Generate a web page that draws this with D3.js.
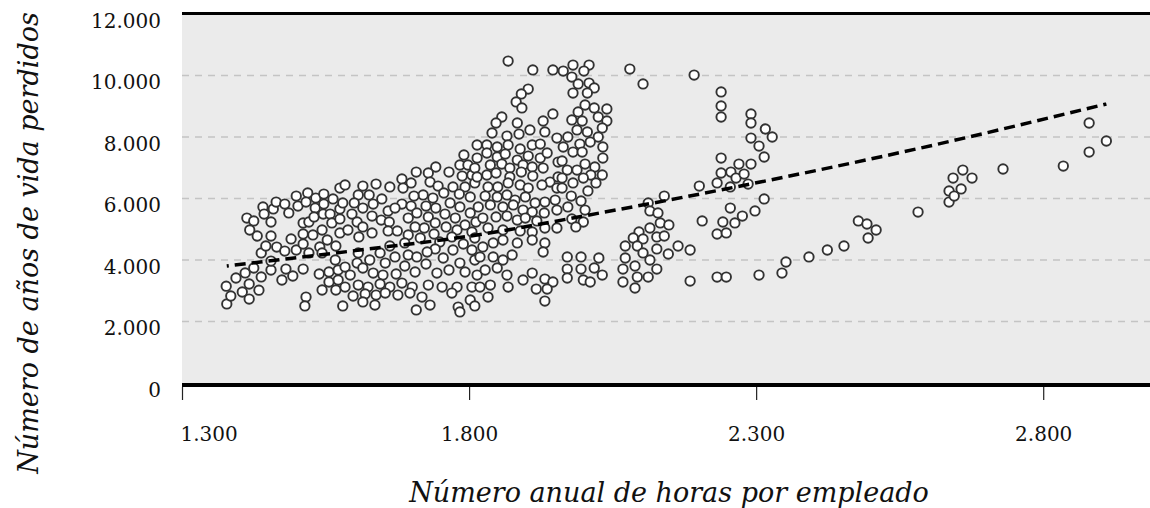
<!DOCTYPE html>
<html>
<head>
<meta charset="utf-8">
<script src="https://cdn.jsdelivr.net/npm/d3@7"></script>
<style>
body { margin: 0; background: #fff; }
svg { display: block; }
</style>
</head>
<body>
<div id="chart"></div>
<script>
// [horas anuales, años de vida perdidos]
var pointsWest = [[1378,2570],[1385,2830],[1377,3150],[1394,3415],[1405,2960],[1417,2730],[1417,3220],[1434,3020],[1410,3580],[1425,3740],[1438,3450],[1455,3675],[1438,4230],[1446,4455],[1465,4420],[1455,4780],[1479,4290],[1481,3705],[1474,3350],[1493,3480],[1511,3705],[1499,4325],[1490,4685],[1511,4520],[1511,4845],[1528,4815],[1521,4230],[1455,3965],[1413,5365],[1425,5270],[1418,4975],[1431,4780],[1455,5235],[1441,5725],[1443,5495],[1459,5660],[1464,5885],[1479,5820],[1486,5530],[1499,6080],[1502,5755],[1511,5205],[1521,5235],[1519,6180],[1516,5885],[1533,6015],[1532,5690],[1530,5400],[1547,6145],[1547,5820],[1546,5495],[1544,4975],[1553,4650],[1540,4425],[1558,5495],[1561,5205],[1563,5985],[1575,6340],[1575,5660],[1575,5335],[1575,4880],[1568,4455],[1567,4000],[1539,3545],[1556,3610],[1572,3675],[1556,3285],[1572,3350],[1544,3025],[1568,3025],[1516,2795],[1514,2505],[1580,2505],[1580,5855],[1584,6440],[1544,4230]];

var pointsCentre = [[1791,7415],[1784,7090],[1798,7090],[1742,7025],[1765,6860],[1708,6860],[1729,6830],[1788,6730],[1683,6635],[1732,6535],[1699,6505],[1805,6765],[1746,6405],[1772,6375],[1793,6375],[1810,6505],[1638,6470],[1615,6405],[1662,6375],[1685,6340],[1756,6180],[1720,6115],[1704,6080],[1648,5985],[1626,6115],[1607,6115],[1737,6015],[1783,6145],[1802,6050],[1600,5855],[1633,5820],[1683,5820],[1725,5755],[1767,5855],[1699,5755],[1742,5690],[1784,5725],[1615,5690],[1659,5595],[1671,5690],[1709,5530],[1758,5495],[1802,5530],[1631,5430],[1596,5495],[1647,5300],[1694,5365],[1729,5400],[1776,5365],[1605,5235],[1741,5205],[1812,5235],[1706,5075],[1793,5140],[1615,5075],[1661,5235],[1659,4945],[1675,4945],[1722,5040],[1760,5075],[1779,4975],[1631,4880],[1589,4975],[1694,4815],[1739,4845],[1805,4910],[1715,4715],[1608,4750],[1770,4750],[1810,4715],[1662,4455],[1645,4230],[1688,4555],[1749,4585],[1790,4520],[1741,4360],[1727,4260],[1694,4165],[1709,4100],[1772,4325],[1805,4325],[1607,4230],[1584,3770],[1605,3900],[1627,4000],[1671,4100],[1654,3900],[1688,3805],[1725,3870],[1755,4065],[1784,3900],[1810,4000],[1593,3510],[1615,3740],[1633,3575],[1650,3510],[1673,3545],[1706,3610],[1744,3575],[1765,3675],[1793,3610],[1814,3510],[1584,3120],[1607,3185],[1624,3120],[1645,3220],[1662,3120],[1683,3250],[1701,3120],[1729,3185],[1753,3120],[1779,3120],[1805,3120],[1598,2830],[1619,2895],[1638,2860],[1654,2925],[1676,2860],[1697,2925],[1718,2795],[1732,2535],[1708,2375],[1636,2535],[1615,2635],[1770,2925],[1781,2470],[1802,2700],[1784,2310],[1810,2505]];

var pointsNorth = [[1868,10470],[1911,10180],[1946,10180],[1903,9560],[1891,9400],[1882,9140],[1892,8945],[1857,8650],[1847,8455],[1884,8455],[1929,8520],[1946,8750],[1840,8130],[1866,8030],[1887,8095],[1906,8230],[1932,8165],[1814,7740],[1831,7740],[1849,7675],[1868,7740],[1889,7610],[1910,7740],[1924,7770],[1953,7965],[1814,7315],[1831,7480],[1849,7350],[1863,7445],[1884,7250],[1903,7380],[1924,7315],[1936,7480],[1810,6990],[1837,7090],[1857,7120],[1871,6990],[1894,7090],[1910,7025],[1929,6990],[1955,7185],[1814,6700],[1831,6765],[1847,6830],[1871,6700],[1891,6860],[1911,6730],[1941,6535],[1955,6700],[1833,6375],[1850,6375],[1868,6505],[1889,6440],[1903,6340],[1927,6440],[1953,6340],[1828,6080],[1849,6050],[1866,6115],[1880,5950],[1898,6050],[1915,5855],[1932,5885],[1950,5950],[1816,5725],[1837,5790],[1859,5725],[1877,5790],[1894,5625],[1910,5560],[1931,5530],[1953,5625],[1824,5365],[1847,5400],[1866,5430],[1884,5300],[1898,5365],[1918,5270],[1932,5040],[1953,5040],[1833,5040],[1859,4975],[1889,4945],[1910,4910],[1884,4555],[1910,4650],[1932,4555],[1929,4260],[1824,4425],[1842,4555],[1859,4650],[1819,4100],[1842,4100],[1859,4000],[1875,4165],[1828,3675],[1849,3740],[1866,3510],[1910,3575],[1894,3350],[1932,3380],[1946,3285],[1936,3055],[1917,3055],[1868,3120],[1837,3185],[1819,3120],[1833,2795],[1932,2665]];

var pointsEast = [[1981,10340],[2009,10340],[1964,10145],[2000,10145],[2080,10210],[1979,9950],[1990,9725],[2009,9755],[2018,9595],[1981,9430],[2006,9430],[2002,9040],[2018,8945],[2040,8910],[1990,8815],[2025,8650],[2040,8520],[1979,8555],[1997,8520],[2032,8295],[1988,8230],[2006,8165],[1972,8000],[2025,8000],[2011,7835],[1964,7675],[1993,7770],[2033,7675],[1981,7510],[1997,7510],[2033,7315],[1962,7220],[2002,7120],[2019,7025],[1971,6925],[1988,6925],[2012,6765],[2032,6765],[1962,6665],[1981,6505],[1999,6665],[2021,6505],[1962,6340],[2007,6245],[1978,6080],[1995,5920],[1972,5725],[2002,5625],[1979,5335],[1999,5235],[1986,5075],[1971,4100],[1995,4100],[2026,4065],[1971,3705],[1995,3705],[2018,3740],[1971,3415],[1999,3350],[2011,3285],[2032,3510]];

var pointsFar = [[2103,9725],[2192,10015],[2239,9465],[2239,9010],[2239,8650],[2291,8750],[2291,8455],[2316,8260],[2328,8000],[2291,7965],[2305,7705],[2314,7350],[2239,7315],[2270,7120],[2291,7120],[2239,6830],[2256,6860],[2265,6665],[2279,6795],[2232,6505],[2255,6375],[2286,6470],[2201,6405],[2140,6080],[2314,5985],[2112,5855],[2115,5595],[2129,5530],[2255,5690],[2298,5595],[2276,5430],[2206,5270],[2242,5235],[2263,5205],[2133,5205],[2148,5140],[2115,5040],[2096,4910],[2127,4750],[2140,4780],[2086,4715],[2103,4685],[2232,4845],[2248,4880],[2072,4455],[2093,4455],[2127,4360],[2164,4455],[2185,4325],[2147,4195],[2072,4065],[2103,4230],[2115,4000],[2127,3705],[2112,3445],[2093,3445],[2068,3705],[2089,3805],[2068,3285],[2089,3090],[2185,3315],[2232,3445],[2248,3445],[2305,3510],[2345,3575],[2352,3935],[2392,4100],[2424,4325],[2453,4455],[2478,5270],[2493,5170],[2509,4975],[2495,4715],[2582,5560],[2636,5885],[2636,6245],[2645,6080],[2657,6310],[2643,6665],[2660,6925],[2676,6665],[2730,6960],[2835,7055],[2880,8455],[2880,7510],[2910,7870]];

// dashed fit line
var trend = [[1378,3805],[1610,4325],[1802,4780],[2028,5530],[2307,6535],[2586,7640],[2910,9075]];

var xTicks = [1300, 1800, 2300, 2800];
var yTicks = [0, 2000, 4000, 6000, 8000, 10000, 12000];
var xTitle = "Número anual de horas por empleado";
var yTitle = "Número de años de vida perdidos";

var width = 1150, height = 508;
var plotLeft = 182, plotRight = 1150, plotTop = 14, plotBottom = 383;
var serif = "'DejaVu Serif', Georgia, serif";

var svg = d3.select("#chart").append("svg")
    .attr("width", width)
    .attr("height", height);

var x = d3.scaleLinear().domain([1300, 2986]).range([plotLeft, plotRight]);
var y = d3.scaleLinear().domain([0, 12000]).range([plotBottom, plotTop]);

var es = d3.formatLocale({decimal: ",", thousands: ".", grouping: [3], currency: ["", " €"]});
var fmt = es.format(",");

// grey panel
svg.append("rect")
    .attr("x", plotLeft)
    .attr("y", plotTop)
    .attr("width", plotRight - plotLeft)
    .attr("height", plotBottom - plotTop)
    .style("fill", "#ebebeb");

// dashed grid
svg.append("g").selectAll("line")
    .data(yTicks.filter(function(d) { return d > 0 && d < 12000; }))
    .enter().append("line")
    .attr("x1", plotLeft)
    .attr("x2", plotRight)
    .attr("y1", function(d) { return y(d); })
    .attr("y2", function(d) { return y(d); })
    .style("stroke", "#c4c4c4")
    .style("stroke-width", 1.3)
    .style("stroke-dasharray", "7,6");

// top rule
svg.append("line")
    .attr("x1", plotLeft).attr("x2", plotRight)
    .attr("y1", y(12000) - 0.5).attr("y2", y(12000) - 0.5)
    .style("stroke", "#000")
    .style("stroke-width", 3);

var allPoints = pointsWest.concat(pointsCentre, pointsNorth, pointsEast, pointsFar);

svg.append("g").selectAll("circle")
    .data(allPoints)
    .enter().append("circle")
    .attr("cx", function(d) { return x(d[0]); })
    .attr("cy", function(d) { return y(d[1]); })
    .attr("r", 4.7)
    .style("fill", "#fff")
    .style("stroke", "#333")
    .style("stroke-width", 1.9);

var line = d3.line()
    .x(function(d) { return x(d[0]); })
    .y(function(d) { return y(d[1]); })
    .curve(d3.curveMonotoneX);

svg.append("path")
    .datum(trend)
    .attr("d", line)
    .style("fill", "none")
    .style("stroke", "#000")
    .style("stroke-width", 3.5)
    .style("stroke-dasharray", "11,6")
    .style("stroke-dashoffset", 9);

// bottom rule + ticks
svg.append("line")
    .attr("x1", plotLeft).attr("x2", plotRight)
    .attr("y1", plotBottom + 2).attr("y2", plotBottom + 2)
    .style("stroke", "#000")
    .style("stroke-width", 4);

var xAxis = svg.append("g")
    .attr("transform", "translate(0," + (plotBottom + 4) + ")")
    .call(d3.axisBottom(x).tickValues(xTicks).tickSize(13).tickPadding(27).tickFormat(fmt));
xAxis.select(".domain").remove();
xAxis.selectAll(".tick line").style("stroke", "#222").style("stroke-width", 1.2);
xAxis.selectAll("text")
    .style("font-family", serif)
    .style("font-size", "20px")
    .style("fill", "#111");
xAxis.selectAll(".tick").filter(function(d) { return d === 1300; })
    .select("text").attr("text-anchor", "start").attr("x", -2);

var yAxis = svg.append("g")
    .attr("transform", "translate(" + plotLeft + ",0)")
    .call(d3.axisLeft(y).tickValues(yTicks).tickSize(0).tickPadding(21).tickFormat(fmt));
yAxis.select(".domain").remove();
yAxis.selectAll("text")
    .attr("dy", "0.65em")
    .style("font-family", serif)
    .style("font-size", "20px")
    .style("fill", "#111");

svg.append("text")
    .attr("x", 669)
    .attr("y", 502)
    .style("text-anchor", "middle")
    .style("font-family", serif)
    .style("font-style", "italic")
    .style("font-size", "27px")
    .style("fill", "#111")
    .text(xTitle);

svg.append("text")
    .attr("transform", "translate(38,243) rotate(-90)")
    .style("text-anchor", "middle")
    .style("font-family", serif)
    .style("font-style", "italic")
    .style("font-size", "27px")
    .style("fill", "#111")
    .text(yTitle);
</script>
</body>
</html>
